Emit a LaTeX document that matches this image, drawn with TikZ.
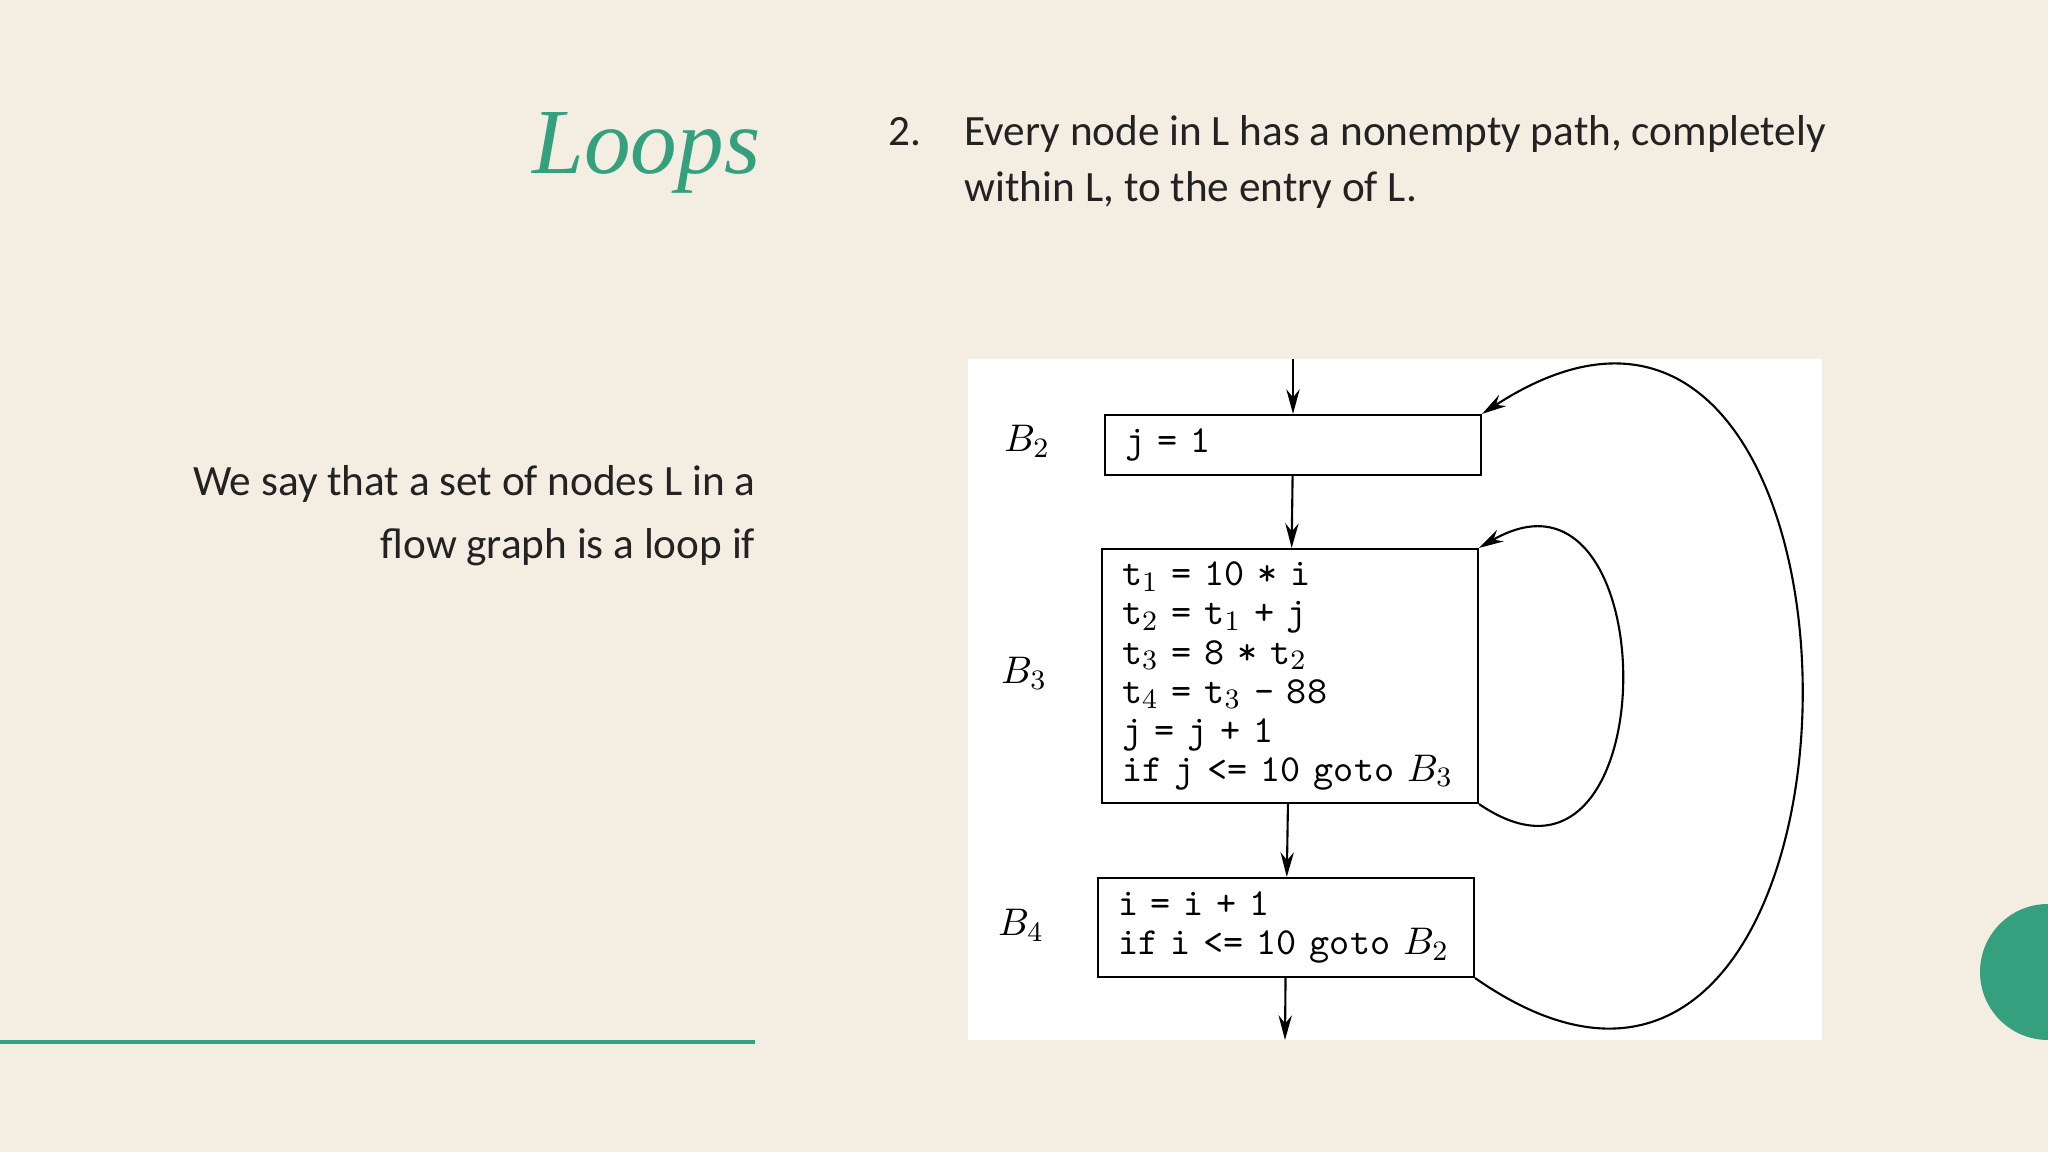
\documentclass[tikz,border=0pt]{standalone}
\usepackage{amsmath}
\usepackage{fontspec}
\setmainfont{Carlito}
\newfontfamily\titlefont{Liberation Serif}
\usetikzlibrary{arrows.meta}
\definecolor{cream}{RGB}{243,238,225}
\definecolor{loopgreen}{RGB}{52,160,126}
\definecolor{ink}{RGB}{34,34,34}

\begin{document}
\begin{tikzpicture}[scale=1,
                    blk/.style={draw, line width=0.6pt, inner xsep=0.2cm, text width=3.36cm, align=left,
                        font=\ttfamily\fontsize{10.9}{11.1}\selectfont},
                    flow/.style={line width=0.6pt, -{Stealth[length=7pt,width=3.8pt]}},
                    body/.style={ink, inner sep=0, font=\fontsize{12.3}{14}\selectfont}]
                    \useasboundingbox (0,0) rectangle (20.48,11.52);
                    \fill [cream] (0,0) rectangle (20.48,11.52);
                    \fill [loopgreen] (20.48,1.80) circle [radius=0.68];
                    \draw [loopgreen, line width=1.2pt] (0,1.10) -- (7.55,1.10);
                    \node (title) [anchor=base east, loopgreen, inner sep=0,
                        font=\titlefont\itshape\fontsize{26.5}{30}\selectfont] at (7.61,9.78) {Loops};
                    \node (num) [body, anchor=base west] at (8.88,10.06) {2.};
                    \node (pt1) [body, anchor=base west] at (9.64,10.06) {Every node in L has a nonempty path, completely};
                    \node (pt2) [body, anchor=base west] at (9.64,9.50) {within L, to the entry of L.};
                    \node (say1) [body, anchor=base east] at (7.56,6.56) {We say that a set of nodes L in a};
                    \node (say2) [body, anchor=base east] at (7.56,5.93) {flow graph is a loop if};
                    \fill [white] (9.68,1.12) rectangle (18.22,7.93);
                    \node (b2) [blk, minimum height=0.60cm] at (12.93,7.07) {j = 1};
                    \node (b3) [blk, minimum height=2.54cm] at (12.90,4.76)
                        {t$_1$ = 10 * i\\t$_2$ = t$_1$ + j\\t$_3$ = 8 * t$_2$\\t$_4$ = t$_3$ - 88\\j = j + 1\\if j <= 10 goto $B_3$};
                    \node (b4) [blk, minimum height=0.99cm] at (12.86,2.245)
                        {i = i + 1\\if i <= 10 goto $B_2$};
                    \node (lb2) [font=\fontsize{11}{13}\selectfont] at (10.27,7.11) {$B_2$};
                    \node (lb3) [font=\fontsize{11}{13}\selectfont] at (10.24,4.79) {$B_3$};
                    \node (lb4) [font=\fontsize{11}{13}\selectfont] at (10.21,2.27) {$B_4$};
                    \coordinate (entry) at (12.93,7.93);
                    \coordinate (exit) at (12.85,1.12);
                    \draw [flow] (entry) -- (b2);
                    \draw [flow] (b2) -- (b3);
                    \draw [flow] (b3) -- (b4);
                    \draw [flow] (b4) -- (exit);
                    \draw [flow] (b3.south east) .. controls +(1.9,-1.3) and +(1.9,1.1) .. (b3.north east);
                    \draw [flow] (b4.south east) .. controls +(4.3,-3) and +(4.3,2.8) .. (b2.north east);
                \end{tikzpicture}
\end{document}
